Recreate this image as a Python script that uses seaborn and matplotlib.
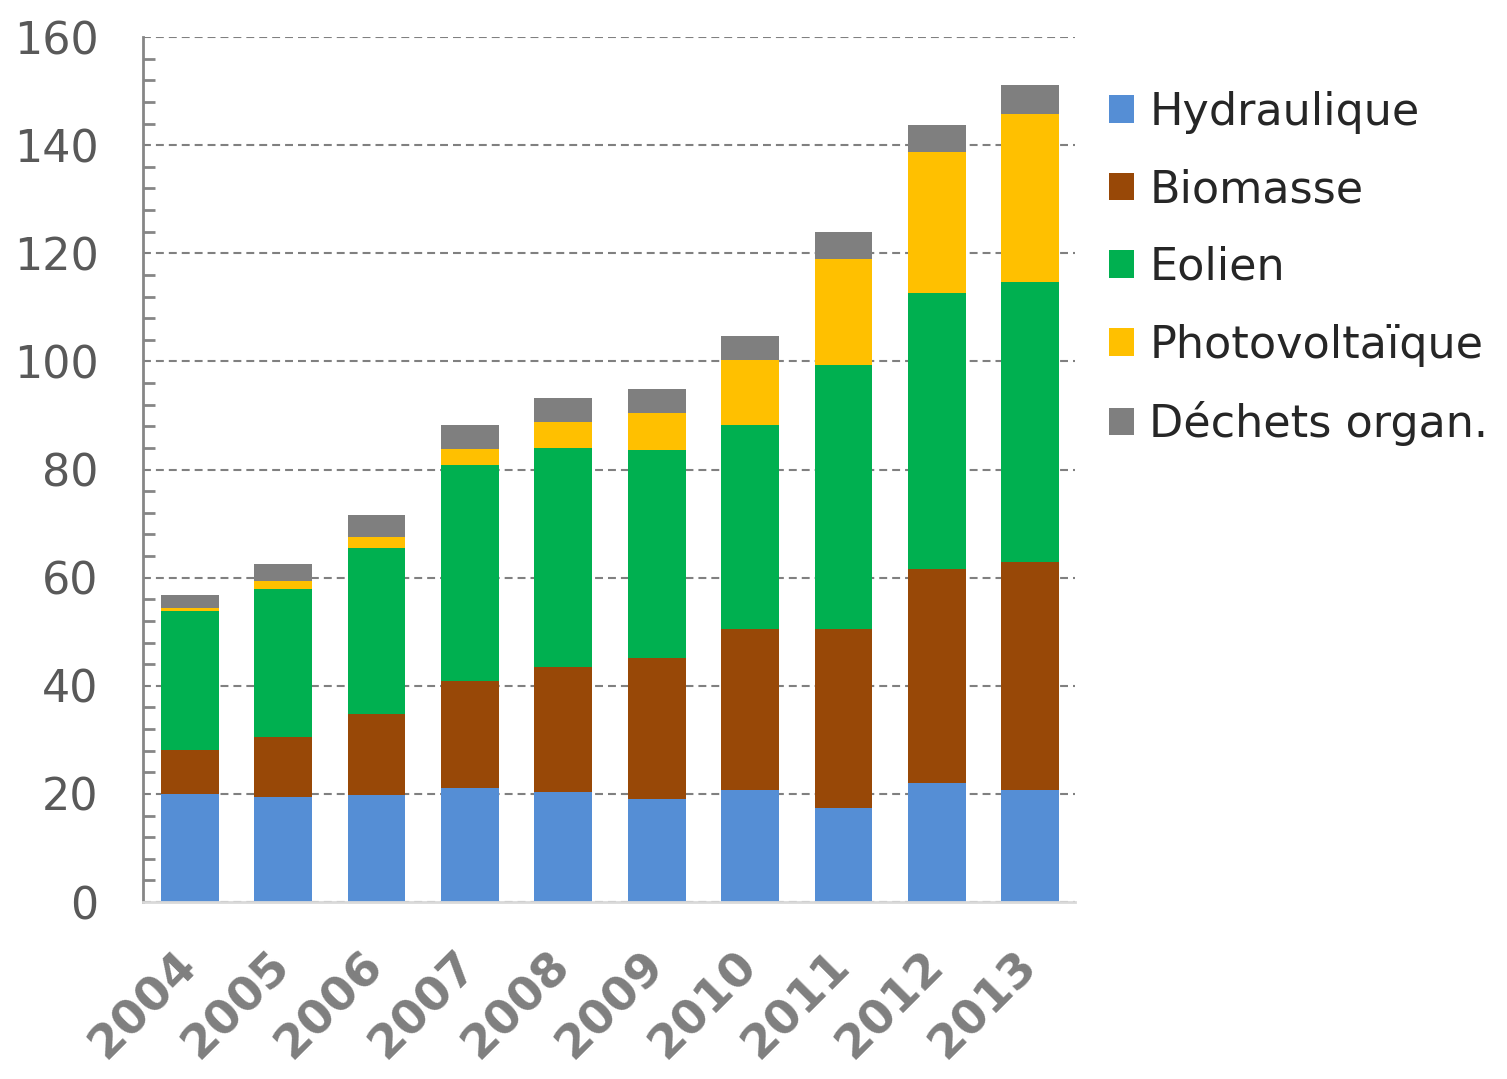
import numpy as np
import pandas as pd
import matplotlib.pyplot as plt
from matplotlib.ticker import MultipleLocator
from matplotlib.patches import Patch
import seaborn as sns

# Production by source, per year
years = ['2004', '2005', '2006', '2007', '2008', '2009', '2010', '2011', '2012', '2013']
hydraulique = [19.9, 19.5, 19.8, 21.1, 20.3, 19.1, 20.7, 17.4, 22.0, 20.7]
biomasse = [8.2, 11.1, 15.0, 19.8, 23.2, 26.0, 29.8, 33.1, 39.6, 42.2]
eolien = [25.8, 27.3, 30.7, 39.9, 40.5, 38.5, 37.7, 48.8, 51.1, 51.8]
photovoltaique = [0.5, 1.4, 2.0, 3.0, 4.8, 6.9, 12.1, 19.6, 26.0, 31.1]
dechets = [2.4, 3.2, 4.1, 4.4, 4.4, 4.4, 4.4, 5.0, 5.0, 5.3]

series_names = ['Hydraulique', 'Biomasse', 'Eolien', 'Photovoltaïque', 'Déchets organ.']
colors = ['#558ED5', '#984807', '#00B050', '#FFC000', '#7F7F7F']

df = pd.DataFrame({
    'Hydraulique': hydraulique,
    'Biomasse': biomasse,
    'Eolien': eolien,
    'Photovoltaïque': photovoltaique,
    'Déchets organ.': dechets,
})
# cumulative tops, drawn from the total down so each layer covers the next
stack = df[series_names].cumsum(axis=1)
stack['annee'] = years

sns.set_style('white')
plt.rcParams['font.family'] = ['DejaVu Sans']

fig = plt.figure(figsize=(15.07, 10.79), dpi=100)
ax = fig.add_axes([0.0949, 0.164, 0.6185, 0.8017])

for name, color in reversed(list(zip(series_names, colors))):
    sns.barplot(data=stack, x='annee', y=name, color=color, saturation=1,
                width=0.62, errorbar=None, ax=ax, zorder=2, linewidth=0)

ax.set_ylim(0, 160)
ax.set_xlim(-0.5, 9.48)
ax.set_xlabel('')
ax.set_ylabel('')

# grid and axes
ax.set_axisbelow(True)
ax.yaxis.set_major_locator(MultipleLocator(20))
ax.yaxis.set_minor_locator(MultipleLocator(4))
ax.yaxis.grid(True, which='major', linestyle=(0, (3.8, 2.4)), color='#808080', lw=1.5)
for side in ['top', 'right']:
    ax.spines[side].set_visible(False)
ax.spines['left'].set_color('#868686')
ax.spines['left'].set_linewidth(2)
ax.spines['bottom'].set_color('#d9d9d9')
ax.spines['bottom'].set_linewidth(2)

ax.tick_params(axis='y', which='major', direction='inout', length=20, width=2,
               color='#868686', labelsize=32, labelcolor='#595959', pad=22)
ax.tick_params(axis='y', which='minor', direction='in', length=8.5, width=2,
               color='#868686', left=True)
ax.tick_params(axis='x', length=0, labelsize=34, labelcolor='#7F7F7F', pad=41)
for lab in ax.get_xticklabels():
    lab.set_rotation(45)
    lab.set_ha('right')
    lab.set_va('center')
    lab.set_rotation_mode('anchor')
    lab.set_fontweight('bold')

handles = [Patch(facecolor=c, edgecolor='none') for c in colors]
fig.legend(handles, series_names, loc='upper left', bbox_to_anchor=(0.736, 0.916),
           frameon=False, fontsize=32, handlelength=0.56, handleheight=0.58,
           handletextpad=0.34, labelspacing=0.78, borderpad=0, borderaxespad=0)

fig.savefig('out.png', dpi=100)
